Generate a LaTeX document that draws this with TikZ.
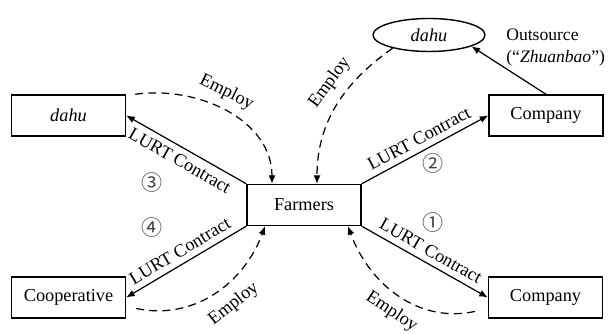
\documentclass[tikz,border=0pt]{standalone}
\usepackage{fontspec}
\setmainfont{Liberation Serif}
\newfontfamily\circfont{Noto Sans CJK SC}
\usetikzlibrary{arrows.meta, positioning, shapes.geometric}

\begin{document}
\begin{tikzpicture}[>={Latex[length=1.7mm, width=1.4mm]}, font=\fontsize{10.4}{12.5}\selectfont,
  B/.style={draw, line width=0.8pt, minimum width=2.28cm, minimum height=0.82cm, inner sep=1pt},
  lurt/.style={->, line width=0.7pt},
  employ/.style={->, line width=0.7pt, dash pattern=on 4.5pt off 3pt},
  num/.style={font=\circfont\fontsize{12}{14}\selectfont, text=black!75}]

\useasboundingbox (0,0) rectangle (12.2,6.68);

\node[B] (farmers) at (6.08, 2.58) {Farmers};
\node[B] (dahuL)   at (1.37, 4.37) {\textit{dahu}};
\node[B] (coop)    at (1.37, 0.73) {Cooperative};
\node[B] (compT)   at (10.92, 4.37) {Company};
\node[B] (compB)   at (10.91, 0.73) {Company};
\node[draw, ellipse, line width=0.8pt, minimum width=2.24cm, minimum height=0.66cm, inner sep=1pt] (dahuE) at (8.58, 5.98) {\textit{dahu}};
\node[anchor=west, align=left, inner sep=0pt, font=\fontsize{10}{12.5}\selectfont] (outsrc) at (10.12, 5.72) {Outsource\\(``\textit{Zhuanbao}'')};

% land transfer contracts
\draw[lurt, <-] (dahuL.east) -- node[midway, sloped, below] {LURT Contract} (farmers.north west);
\draw[lurt, <-] (coop.east) -- node[midway, sloped, above] {LURT Contract} (farmers.south west);
\draw[lurt] (farmers.north east) -- node[midway, sloped, above] {LURT Contract} (compT.west);
\draw[lurt] (farmers.south east) -- node[midway, sloped, above] {LURT Contract} (compB.west);
\draw[lurt] (compT.north) -- (dahuE.-15);

% employment of farmers
\draw[employ] ([xshift=0.18cm]dahuL.north east) to[out=8, in=90]
  node[pos=0.45, sloped, above=1pt] {Employ} ([xshift=-0.64cm]farmers.north);
\draw[employ] (dahuE.200) to[out=215, in=90]
  node[pos=0.4, sloped, above=2pt] {Employ} ([xshift=0.26cm]farmers.north);
\draw[employ] ([xshift=0.2cm, yshift=-0.22cm]coop.east) to[out=-12, in=-110]
  node[pos=0.55, sloped, below=3pt] {Employ} ([xshift=-0.78cm]farmers.south);
\draw[employ] ([xshift=-0.26cm, yshift=-0.28cm]compB.west) to[out=192, in=-70]
  node[pos=0.47, sloped, below=1.5pt] {Employ} ([xshift=0.88cm]farmers.south);

\node[num] (n1) at (8.66, 2.24) {①};
\node[num] (n2) at (8.66, 3.42) {②};
\node[num] (n3) at (3.04, 3.04) {③};
\node[num] (n4) at (3.04, 2.14) {④};

\end{tikzpicture}
\end{document}
